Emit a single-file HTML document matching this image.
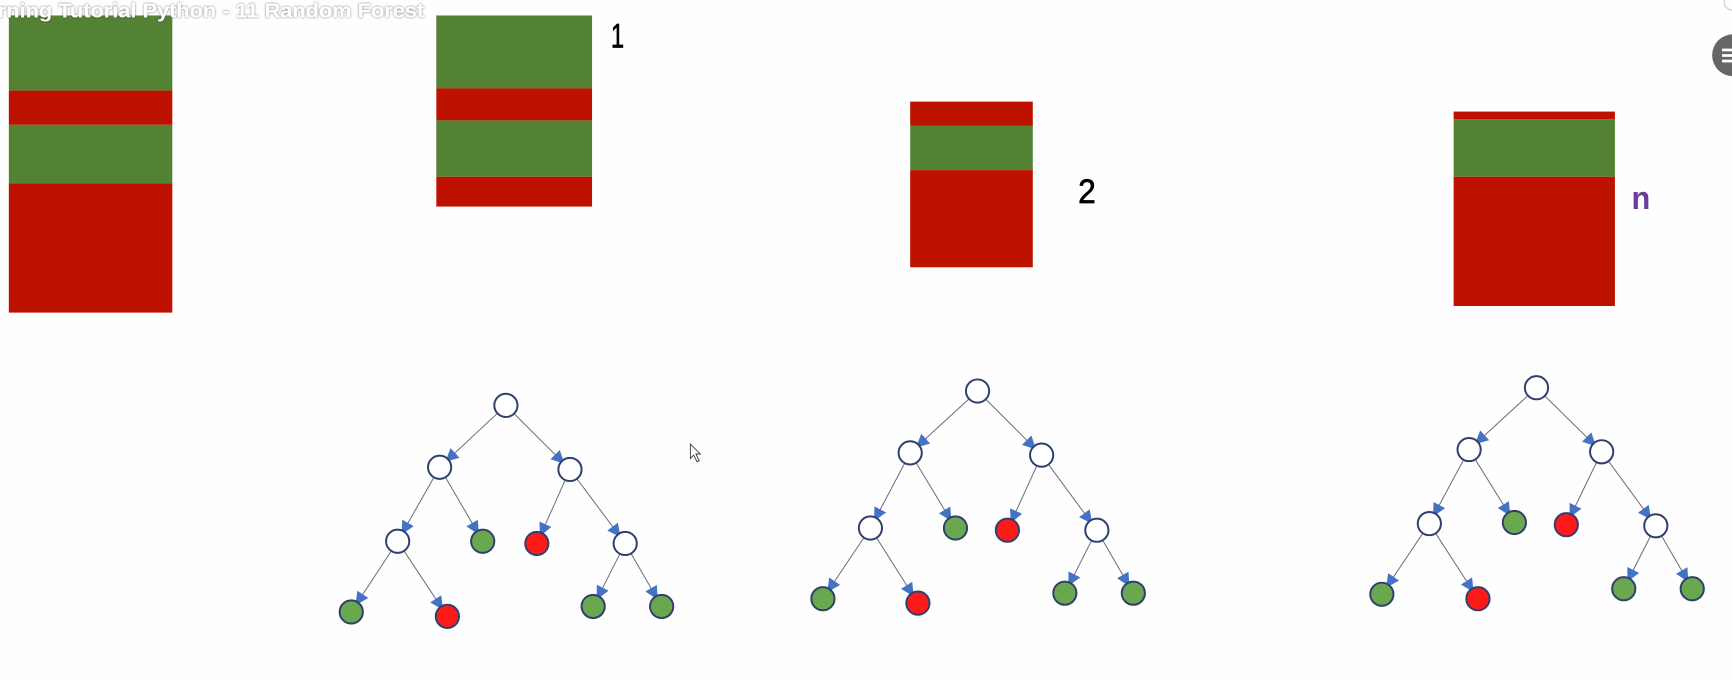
<!DOCTYPE html>
<html><head><meta charset="utf-8"><style>
html,body{margin:0;padding:0;background:#fff;width:1732px;height:680px;overflow:hidden}
svg{display:block}
</style></head><body>
<svg width="1732" height="680" viewBox="0 0 1568 615.6" preserveAspectRatio="none" xmlns="http://www.w3.org/2000/svg">
<defs>
<marker id="ah" viewBox="0 0 10 10" refX="8" refY="5" markerWidth="12" markerHeight="12" markerUnits="userSpaceOnUse" orient="auto">
<path d="M0,0 L10,5 L0,10 z" fill="#4472c4"/></marker>
<filter id="sh"><feDropShadow dx="0" dy="0" stdDeviation="1" flood-color="#000" flood-opacity="0.6"/></filter>
</defs>
<rect width="1568" height="615.6" fill="#fefefe"/>
<g>
<rect x="8" y="14" width="148" height="68" fill="#548235"/>
<rect x="8" y="82" width="148" height="31" fill="#bd1200"/>
<rect x="8" y="113" width="148" height="53" fill="#548235"/>
<rect x="8" y="166" width="148" height="117" fill="#bd1200"/>

<rect x="395" y="14" width="141" height="66" fill="#548235"/>
<rect x="395" y="80" width="141" height="29" fill="#bd1200"/>
<rect x="395" y="109" width="141" height="51" fill="#548235"/>
<rect x="395" y="160" width="141" height="27" fill="#bd1200"/>

<rect x="824" y="92" width="111" height="22" fill="#bd1200"/>
<rect x="824" y="114" width="111" height="40" fill="#548235"/>
<rect x="824" y="154" width="111" height="88" fill="#bd1200"/>

<rect x="1316" y="101" width="146" height="7" fill="#bd1200"/>
<rect x="1316" y="108" width="146" height="52" fill="#548235"/>
<rect x="1316" y="160" width="146" height="117" fill="#bd1200"/>
</g>
<text x="553" y="43" font-family="Liberation Sans, sans-serif" font-size="31" fill="#000" stroke="#000" stroke-width="0.6" textLength="12" lengthAdjust="spacingAndGlyphs">1</text>
<text x="976" y="184" font-family="Liberation Sans, sans-serif" font-size="31" fill="#000" stroke="#000" stroke-width="0.6" textLength="16" lengthAdjust="spacingAndGlyphs">2</text>
<text x="1477" y="189" font-family="Liberation Sans, sans-serif" font-size="29" font-weight="bold" fill="#6a3d9a" textLength="17" lengthAdjust="spacingAndGlyphs">n</text>
<text x="-2" y="16" font-family="Liberation Sans, sans-serif" font-size="18" font-weight="bold" fill="#fff" filter="url(#sh)" textLength="386" lengthAdjust="spacingAndGlyphs">rning Tutorial Python - 11  Random Forest</text>
<circle cx="1569" cy="50" r="19" fill="#666"/>
<rect x="1559" y="44" width="12" height="2.5" fill="#fff"/><rect x="1559" y="49" width="12" height="2.5" fill="#fff"/><rect x="1559" y="54" width="12" height="2.5" fill="#fff"/>
<circle cx="1568" cy="2" r="7" fill="none" stroke="#ccc" stroke-width="1"/>
<path d="M625,402 L625,415 L628,412 L631,418 L633,417 L630,411 L634,411 Z" fill="#fff" stroke="#333" stroke-width="0.8"/>
<g id="trees"></g>
</svg>
<script>
var trees=[
 {n:[[458,367],[398,423],[516,425],[360,490],[437,490],[486,492],[566,492],[318,554],[405,558],[537,549],[599,549]]},
 {n:[[885,354],[824,410],[943,412],[788,478],[865,478],[912,480],[993,480],[745,542],[831,546],[964,537],[1026,537]]},
 {n:[[1391,351],[1330,407],[1450,409],[1294,474],[1371,473],[1418,475],[1499,476],[1251,538],[1338,542],[1470,533],[1532,533]]}
];
var edges=[[0,1],[0,2],[1,3],[1,4],[2,5],[2,6],[3,7],[3,8],[6,9],[6,10]];
var fills=['#fff','#fff','#fff','#fff','#6aa84f','#ff1a1a','#fff','#6aa84f','#ff1a1a','#6aa84f','#6aa84f'];
var g=document.getElementById('trees'),R=10.5,s='';
trees.forEach(function(t){
 edges.forEach(function(e){
  var a=t.n[e[0]],b=t.n[e[1]],dx=b[0]-a[0],dy=b[1]-a[1],L=Math.sqrt(dx*dx+dy*dy),ux=dx/L,uy=dy/L;
  s+='<line x1="'+(a[0]+ux*R)+'" y1="'+(a[1]+uy*R)+'" x2="'+(b[0]-ux*(R-1))+'" y2="'+(b[1]-uy*(R-1))+'" stroke="#6b6b78" stroke-width="0.9" marker-end="url(#ah)"/>';
 });
 t.n.forEach(function(p,i){
  s+='<circle cx="'+p[0]+'" cy="'+p[1]+'" r="'+R+'" fill="'+fills[i]+'" stroke="#2f3f6e" stroke-width="1.8"/>';
 });
});
g.innerHTML=s;
</script>
</body></html>
